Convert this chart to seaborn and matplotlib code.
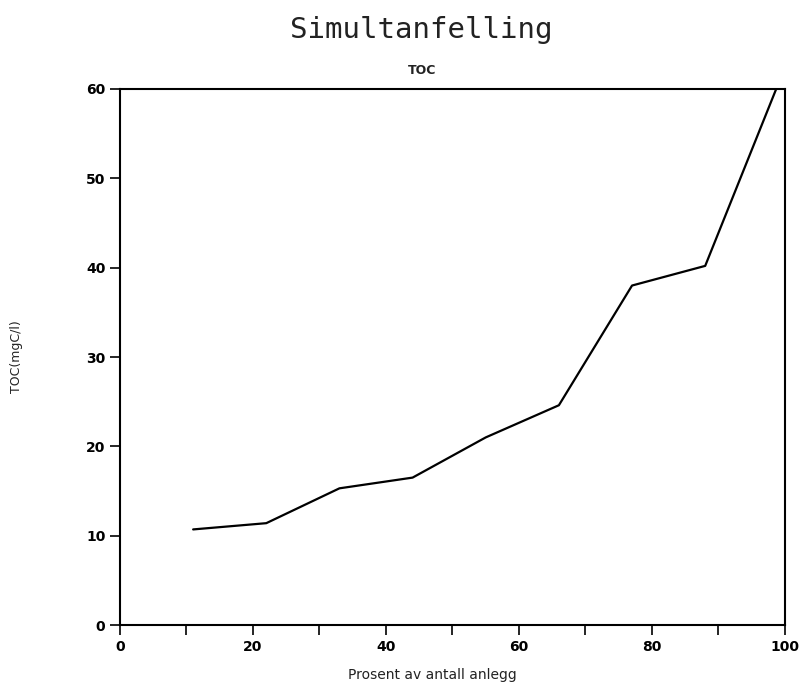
import matplotlib
matplotlib.use("Agg")
import matplotlib.pyplot as plt
import seaborn as sns
import pandas as pd
from matplotlib.ticker import MultipleLocator

# =====================================
# Data
# =====================================
prosent = [11, 22, 33, 44, 55, 66, 77, 88, 99]
toc = [10.7, 11.4, 15.3, 16.5, 21.0, 24.6, 38.0, 40.2, 60.6]

df = pd.DataFrame({"Prosent": prosent, "TOC": toc})

sns.set_style("ticks")

fig = plt.figure(figsize=(8.02, 6.92), dpi=100)
ax = fig.add_axes([0.1496, 0.0968, 0.8292, 0.7746])

sns.lineplot(data=df, x="Prosent", y="TOC", ax=ax, color="black", linewidth=1.6)

ax.set_xlim(0, 100)
ax.set_ylim(0, 60)
ax.xaxis.set_major_locator(MultipleLocator(20))
ax.xaxis.set_minor_locator(MultipleLocator(10))
ax.yaxis.set_major_locator(MultipleLocator(10))
ax.tick_params(which="both", direction="out", length=7, width=1.2, colors="black",
               labelsize=10)
ax.tick_params(axis="x", pad=4)
for lbl in ax.get_xticklabels() + ax.get_yticklabels():
    lbl.set_fontweight("bold")
for s in ax.spines.values():
    s.set_linewidth(1.5)
    s.set_color("black")

ax.set_xlabel("")
ax.set_ylabel("")

fig.text(0.525, 0.957, "Simultanfelling", ha="center", va="center",
         fontsize=21, family="DejaVu Sans Mono", color="#222222")
fig.text(0.526, 0.898, "TOC", ha="center", va="center",
         fontsize=9, fontweight="bold", color="#222222")
fig.text(0.539, 0.025, "Prosent av antall anlegg", ha="center", va="center",
         fontsize=10, color="#222222")
fig.text(0.02, 0.484, "TOC(mgC/l)", ha="center", va="center",
         rotation=90, fontsize=9, color="#222222")

fig.savefig("out.png", dpi=100)
